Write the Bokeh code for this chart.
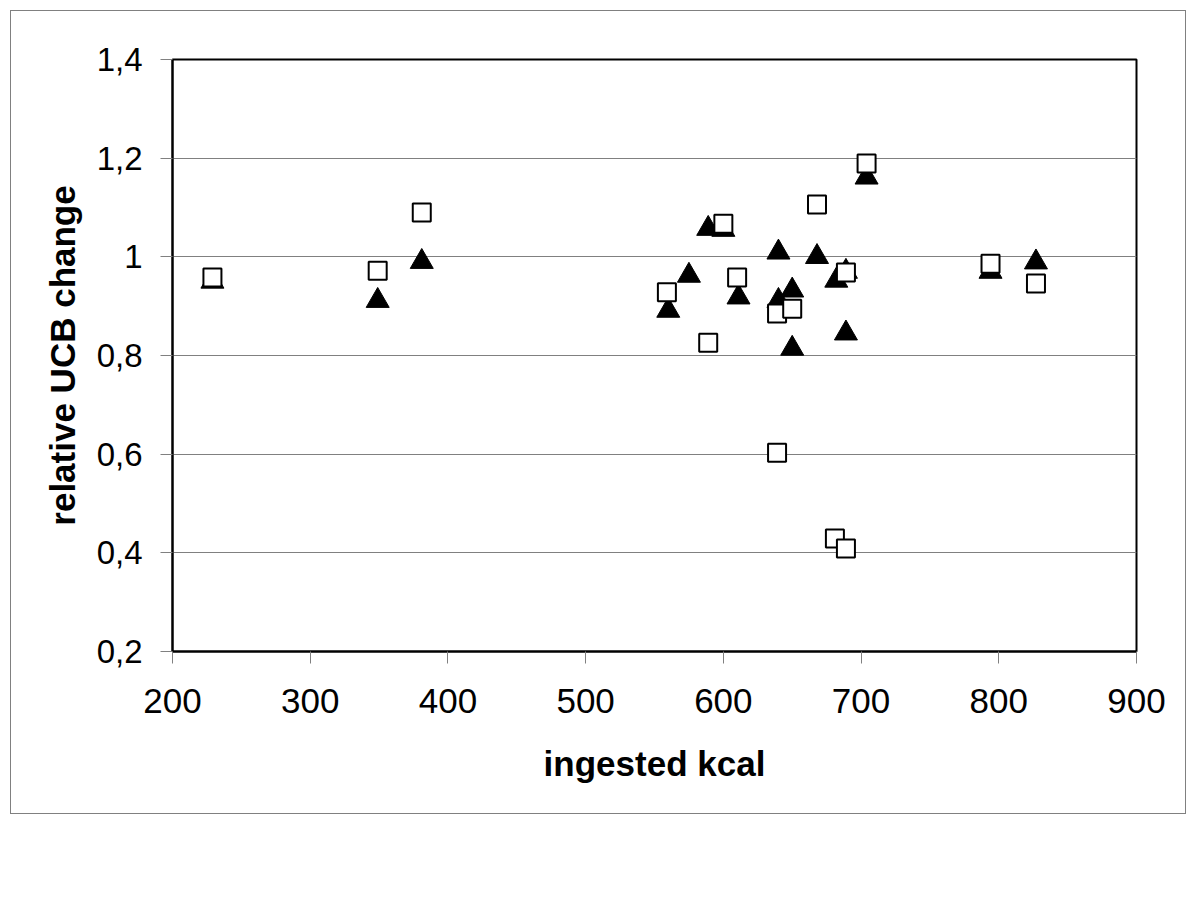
from bokeh.plotting import figure
from bokeh.models import Range1d, FixedTicker
from bokeh.embed import file_html
from bokeh.resources import INLINE

# --- data ---
tri_x = [229, 349, 381, 560, 575, 589, 600, 611, 640, 640, 650, 650, 668, 682, 689, 689, 704, 794, 827]
tri_y = [0.95, 0.911, 0.99, 0.891, 0.962, 1.057, 1.055, 0.918, 1.009, 0.911, 0.932, 0.814, 1.0, 0.952, 0.97, 0.845, 1.161, 0.97, 0.989]

sq_x = [229, 349, 381, 559, 589, 600, 610, 639, 639, 650, 668, 681, 689, 689, 704, 794, 827]
sq_y = [0.958, 0.972, 1.09, 0.928, 0.826, 1.067, 0.958, 0.885, 0.603, 0.895, 1.106, 0.429, 0.968, 0.409, 1.189, 0.986, 0.946]

x_ticks = [200, 300, 400, 500, 600, 700, 800, 900]
x_tick_labels = ["200", "300", "400", "500", "600", "700", "800", "900"]
y_ticks = [0.2, 0.4, 0.6, 0.8, 1.0, 1.2, 1.4]
y_tick_labels = ["0,2", "0,4", "0,6", "0,8", "1", "1,2", "1,4"]

x_title = "ingested kcal"
y_title = "relative UCB change"

FONT = "Liberation Sans"

p = figure(width=1176, height=804, output_backend="svg", toolbar_location=None,
           x_range=Range1d(200, 900), y_range=Range1d(0.2, 1.4),
           min_border_left=161, min_border_top=48, min_border_right=51, min_border_bottom=164)
p.margin = (10, 0, 0, 10)
p.styles = {"border": "1px solid #808080"}

p.outline_line_color = "black"
p.outline_line_width = 2
p.background_fill_color = "white"
p.border_fill_color = "white"

p.xgrid.grid_line_color = None
p.ygrid.grid_line_color = "#808080"
p.ygrid.grid_line_width = 1

p.xaxis.ticker = FixedTicker(ticks=x_ticks)
p.yaxis.ticker = FixedTicker(ticks=y_ticks)
p.xaxis.major_label_overrides = {t: l for t, l in zip(x_ticks, x_tick_labels)}
p.yaxis.major_label_overrides = {t: l for t, l in zip(y_ticks, y_tick_labels)}

for ax in (p.xaxis, p.yaxis):
    ax.axis_line_color = "black"
    ax.axis_line_width = 2
    ax.major_tick_in = 0
    ax.major_tick_out = 12
    ax.major_tick_line_color = "#808080"
    ax.minor_tick_line_color = None
    ax.major_label_text_font = FONT
    ax.major_label_text_color = "black"
    ax.axis_label_text_font = FONT
    ax.axis_label_text_font_size = "35px"
    ax.axis_label_text_font_style = "bold"
    ax.axis_label_text_color = "black"

p.xaxis.major_label_text_font_size = "35px"
p.yaxis.major_label_text_font_size = "33px"
p.xaxis.major_label_standoff = 25
p.yaxis.major_label_standoff = 18
p.xaxis.axis_label = x_title
p.yaxis.axis_label = y_title
p.xaxis.axis_label_standoff = 28
p.yaxis.axis_label_standoff = 12

p.scatter(tri_x, tri_y, marker="triangle", size=23, fill_color="black", line_color="black", line_width=1)
p.scatter(sq_x, sq_y, marker="square", size=18, fill_color="white", line_color="black", line_width=2)

open("out.html", "w").write(file_html(p, INLINE))
